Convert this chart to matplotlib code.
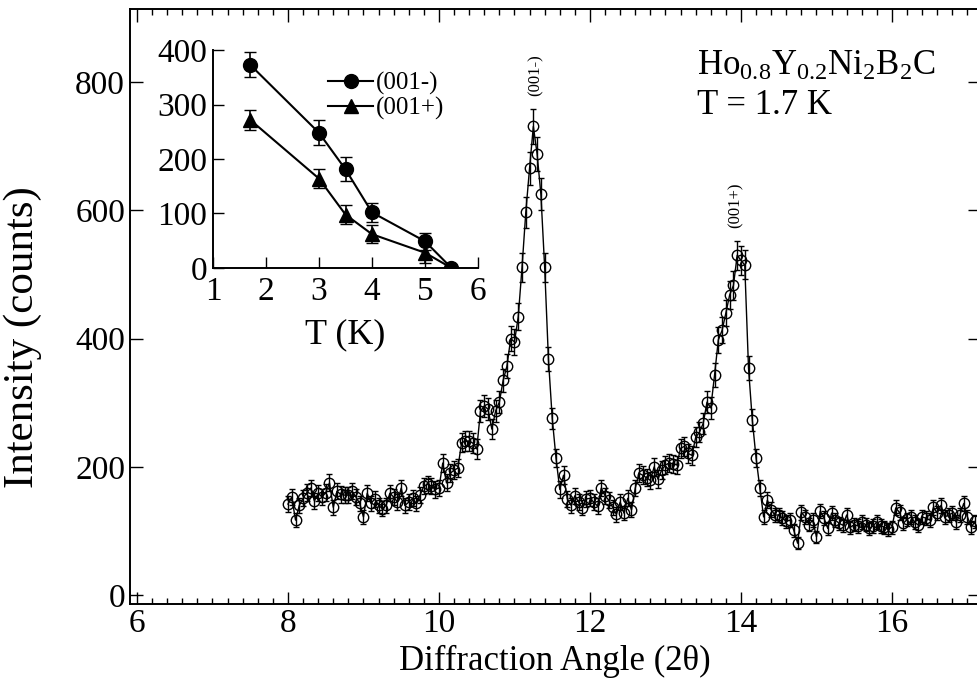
import numpy as np
import matplotlib
matplotlib.use('Agg')
from matplotlib import pyplot as plt
from matplotlib.ticker import MultipleLocator

plt.rcParams['font.family'] = ['Liberation Serif', 'DejaVu Serif']
plt.rcParams['mathtext.fontset'] = 'custom'
plt.rcParams['mathtext.rm'] = 'Liberation Serif'
plt.rcParams['mathtext.it'] = 'Liberation Serif:italic'

########
# DATA #
########

# scan at T = 1.7 K
two_theta = [
    8.00, 8.05, 8.10, 8.15, 8.20, 8.25, 8.30, 8.35, 8.40, 8.45,
    8.50, 8.55, 8.60, 8.65, 8.70, 8.75, 8.80, 8.85, 8.90, 8.95,
    9.00, 9.05, 9.10, 9.15, 9.20, 9.25, 9.30, 9.35, 9.40, 9.45,
    9.50, 9.55, 9.60, 9.65, 9.70, 9.75, 9.80, 9.85, 9.90, 9.95,
    10.00, 10.05, 10.10, 10.15, 10.20, 10.25, 10.30, 10.35, 10.40, 10.45,
    10.50, 10.55, 10.60, 10.65, 10.70, 10.75, 10.80, 10.85, 10.90, 10.95,
    11.00, 11.05, 11.10, 11.15, 11.20, 11.25, 11.30, 11.35, 11.40, 11.45,
    11.50, 11.55, 11.60, 11.65, 11.70, 11.75, 11.80, 11.85, 11.90, 11.95,
    12.00, 12.05, 12.10, 12.15, 12.20, 12.25, 12.30, 12.35, 12.40, 12.45,
    12.50, 12.55, 12.60, 12.65, 12.70, 12.75, 12.80, 12.85, 12.90, 12.95,
    13.00, 13.05, 13.10, 13.15, 13.20, 13.25, 13.30, 13.35, 13.40, 13.45,
    13.50, 13.55, 13.60, 13.65, 13.70, 13.75, 13.80, 13.85, 13.90, 13.95,
    14.00, 14.05, 14.10, 14.15, 14.20, 14.25, 14.30, 14.35, 14.40, 14.45,
    14.50, 14.55, 14.60, 14.65, 14.70, 14.75, 14.80, 14.85, 14.90, 14.95,
    15.00, 15.05, 15.10, 15.15, 15.20, 15.25, 15.30, 15.35, 15.40, 15.45,
    15.50, 15.55, 15.60, 15.65, 15.70, 15.75, 15.80, 15.85, 15.90, 15.95,
    16.00, 16.05, 16.10, 16.15, 16.20, 16.25, 16.30, 16.35, 16.40, 16.45,
    16.50, 16.55, 16.60, 16.65, 16.70, 16.75, 16.80, 16.85, 16.90, 16.95,
    17.00, 17.05, 17.10]

counts = [
    142, 153, 117, 140, 151, 160, 167, 147, 159, 153,
    160, 175, 137, 162, 157, 156, 156, 162, 153, 143,
    122, 159, 143, 150, 140, 135, 140, 159, 153, 145,
    167, 140, 145, 151, 143, 156, 170, 173, 170, 165,
    167, 206, 175, 190, 195, 198, 238, 240, 240, 237,
    228, 287, 295, 290, 259, 287, 301, 335, 357, 400,
    395, 434, 511, 597, 666, 731, 688, 625, 511, 368,
    276, 214, 165, 187, 150, 140, 155, 145, 136, 150,
    151, 145, 139, 167, 155, 148, 137, 126, 145, 128,
    151, 133, 167, 190, 187, 183, 179, 200, 181, 195,
    203, 206, 205, 203, 229, 232, 221, 218, 246, 254,
    268, 301, 292, 343, 398, 413, 440, 468, 483, 530,
    522, 515, 354, 273, 214, 167, 122, 148, 133, 125,
    125, 120, 115, 117, 101, 81, 129, 122, 110, 117,
    91, 131, 120, 104, 128, 117, 112, 109, 125, 106,
    110, 108, 114, 110, 104, 108, 114, 108, 106, 103,
    106, 136, 129, 112, 118, 122, 114, 109, 122, 120,
    117, 137, 128, 140, 122, 125, 128, 114, 125, 143,
    122, 106, 115]

# counting statistics
counts_err = np.sqrt(counts)

# inset: peak intensity vs temperature
T_minus = [1.7, 3.0, 3.5, 4.0, 5.0, 5.5]
I_minus = [373, 248, 181, 102, 49, 0]
err_minus = [23, 23, 22, 18, 16, 0]

T_plus = [1.7, 3.0, 3.5, 4.0, 5.0, 5.5]
I_plus = [272, 164, 98, 62, 28, 0]
err_plus = [18, 18, 18, 16, 18, 0]

########
# PLOT #
########

fig = plt.figure(figsize=(9.77, 6.96), dpi=100)
ax = fig.add_axes([0.133, 0.132, 0.870, 0.855])

ax.errorbar(two_theta, counts, yerr=counts_err, fmt='-o', color='k',
            mfc='none', mec='k', ms=7.5, mew=1.0, lw=1.0,
            elinewidth=1.0, capsize=2)

ax.set_xlim(5.907, 17.165)
ax.set_ylim(-14, 914)
ax.xaxis.set_major_locator(MultipleLocator(2))
ax.xaxis.set_minor_locator(MultipleLocator(0.2))
ax.yaxis.set_major_locator(MultipleLocator(200))
ax.tick_params(which='both', direction='in', top=True, right=True,
               width=1.0, labelsize=24)
ax.tick_params(which='major', length=9)
ax.tick_params(which='minor', length=4.5)
for s in ax.spines.values():
    s.set_linewidth(1.4)

ax.set_xlabel('Diffraction Angle (2θ)', fontsize=25, labelpad=4)
ax.set_ylabel('Intensity (counts)', fontsize=31)
ax.yaxis.set_label_coords(-0.104, 0.449)

ax.text(11.28, 811, '(001-)', rotation=90, fontsize=12,
        ha='center', va='center')
ax.text(13.93, 608, '(001+)', rotation=90, fontsize=12,
        ha='center', va='center')

ax.text(13.42, 811, r'Ho$_{0.8}$Y$_{0.2}$Ni$_2$B$_2$C', fontsize=25,
        ha='left', va='baseline')
ax.text(13.42, 751, 'T = 1.7 K', fontsize=25, ha='left', va='baseline')

#########
# INSET #
#########

axi = fig.add_axes([213/977, 1 - 268/696, 265/977, 218/696])
axi.errorbar(T_minus, I_minus, yerr=err_minus, fmt='none', ecolor='k',
             elinewidth=1.2, capsize=4)
axi.errorbar(T_plus, I_plus, yerr=err_plus, fmt='none', ecolor='k',
             elinewidth=1.2, capsize=4)
axi.plot(T_minus, I_minus, '-o', color='k', ms=10, lw=1.5, label='(001-)')
axi.plot(T_plus, I_plus, '-^', color='k', ms=10, lw=1.5, label='(001+)')

axi.set_xlim(1, 6)
axi.set_ylim(0, 400)
axi.xaxis.set_major_locator(MultipleLocator(1))
axi.yaxis.set_major_locator(MultipleLocator(100))
axi.spines['top'].set_visible(False)
axi.spines['right'].set_visible(False)
for s in ['left', 'bottom']:
    axi.spines[s].set_linewidth(1.4)
axi.tick_params(direction='in', length=8, width=1.0, labelsize=24)
axi.tick_params(axis='x', pad=6)
axi.tick_params(axis='y', pad=4)
axi.set_xlabel('T (K)', fontsize=26, labelpad=8)
axi.set_facecolor('none')

axi.legend(loc='upper left', bbox_to_anchor=(0.434, 0.90), frameon=False,
           fontsize=18, handlelength=1.8, handletextpad=0.1,
           labelspacing=0.1, borderpad=0, borderaxespad=0)

plt.savefig('out.png', dpi=100)
plt.close()
